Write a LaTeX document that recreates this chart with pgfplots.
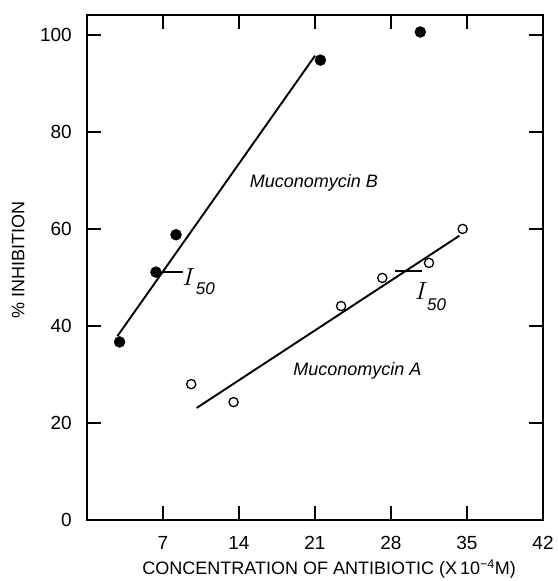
\documentclass[border=0pt]{standalone}
\usepackage{fontspec}
\setmainfont{Liberation Sans}
\usepackage{pgfplots}
\pgfplotsset{compat=1.18}
\begin{document}
\begin{tikzpicture}
\useasboundingbox (-87bp,-61bp) rectangle (471bp,520bp);
\begin{axis}[
  scale only axis,
  width=456bp, height=505bp,
  xmin=0, xmax=42, ymin=0, ymax=104.1,
  axis line style={line width=1.6bp},
  xtick={7,14,21,28,35,42},
  ytick={0,20,40,60,80,100},
  tick align=inside,
  major tick length=14bp,
  tick style={line width=1.4bp, black},
  /pgf/number format/assume math mode=true,
  tick label style={font=\fontsize{19bp}{22bp}\selectfont},
  xticklabel style={anchor=center, inner sep=0pt, yshift=-23bp},
  yticklabel style={anchor=east, inner sep=0pt, xshift=-15bp},
  xlabel={CONCENTRATION OF ANTIBIOTIC (X\,10\textsuperscript{−4}M)},
  ylabel={\% INHIBITION},
  xlabel style={font=\fontsize{18bp}{20bp}\selectfont, at={(axis description cs:0.531,0)}, anchor=center, yshift=-49bp},
  ylabel style={font=\fontsize{18bp}{20bp}\selectfont, at={(axis description cs:-0.151,0.515)}, anchor=center},
  clip=false,
]
% Muconomycin B fitted line
\addplot[black, line width=1.9bp, no marks] coordinates {(2.8,37.9) (21.0,95.7)};
% Muconomycin A fitted line
\addplot[black, line width=1.9bp, no marks] coordinates {(10.1,23.1) (34.3,58.6)};
% I50 ticks
\addplot[black, line width=1.9bp, no marks] coordinates {(6.9,51.1) (8.8,51.1)};
\addplot[black, line width=1.9bp, no marks] coordinates {(28.4,51.3) (30.9,51.3)};
% Muconomycin B points (filled)
\addplot[only marks, mark=*, mark size=5.5bp, black] coordinates {
  (3.0,36.7) (6.35,51.1) (8.2,58.8) (21.5,94.8) (30.7,100.6)};
% Muconomycin A points (open)
\addplot[only marks, mark=o, mark size=4.6bp, black, line width=1.3bp, fill=white] coordinates {
  (9.6,28.0) (13.5,24.3) (23.4,44.1) (27.2,49.9) (31.5,53.0) (34.6,60.0)};
\node[font=\itshape\fontsize{18bp}{20bp}\selectfont] at (axis cs:20.9,69.5) {Muconomycin B};
\node[font=\itshape\fontsize{18bp}{20bp}\selectfont] at (axis cs:24.9,30.7) {Muconomycin A};
\node[font=\fontsize{23bp}{26bp}\selectfont] at (axis cs:9.4,50.0) {$I$};
\node[font=\itshape\fontsize{17bp}{20bp}\selectfont] at (axis cs:10.9,47.6) {50};
\node[font=\fontsize{23bp}{26bp}\selectfont] at (axis cs:30.8,47.3) {$I$};
\node[font=\itshape\fontsize{17bp}{20bp}\selectfont] at (axis cs:32.2,44.4) {50};
\end{axis}
\end{tikzpicture}
\end{document}
